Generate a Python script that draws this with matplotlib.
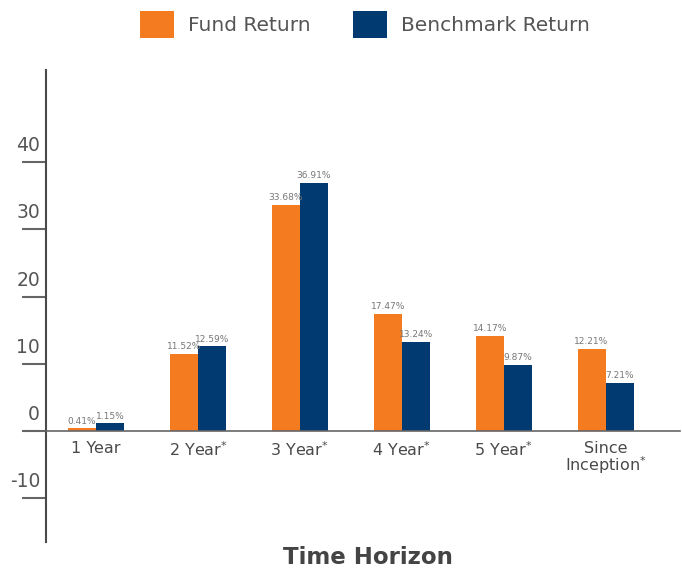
import matplotlib.pyplot as plt
import matplotlib.transforms as mtransforms
import numpy as np

plt.rcParams['axes.unicode_minus'] = False

# horizontes y rendimientos
horizontes = ['1 Year', '2 Year$^{*}$', '3 Year$^{*}$', '4 Year$^{*}$', '5 Year$^{*}$', 'Since\nInception$^{*}$']
fondo = [0.41, 11.52, 33.68, 17.47, 14.17, 12.21]
benchmark = [1.15, 12.59, 36.91, 13.24, 9.87, 7.21]
ticks_y = [-10, 0, 10, 20, 30, 40]

naranja = '#F47B20'
azul = '#003A70'
gris = '#4a4a4a'

fig = plt.figure(figsize=(6.82, 5.70), dpi=100)
ax = fig.add_axes([46/682, 1 - 542/570, (680 - 46)/682, (542 - 70)/570])

x = np.arange(len(horizontes))
ancho = 0.275
b1 = ax.bar(x - ancho/2, fondo, ancho, color=naranja, label='Fund Return')
b2 = ax.bar(x + ancho/2, benchmark, ancho, color=azul, label='Benchmark Return')

for barras, vals in ((b1, fondo), (b2, benchmark)):
    for b, v in zip(barras, vals):
        ax.annotate(f'{v:.2f}%', (b.get_x() + b.get_width()/2, v),
                    xytext=(0, 2), textcoords='offset points',
                    ha='center', va='bottom', fontsize=6.5, color='#777777')

ax.set_xlim(-0.49, 5.73)
ax.set_ylim(-16.5, 53.7)

for s in ['top', 'right']:
    ax.spines[s].set_visible(False)
ax.spines['bottom'].set_position(('data', 0))
ax.spines['bottom'].set_color('#666666')
ax.spines['bottom'].set_linewidth(1.2)
ax.spines['left'].set_color(gris)
ax.spines['left'].set_linewidth(1.5)

ax.set_xticks(x)
ax.set_xticklabels(horizontes, fontsize=11.5, color=gris, linespacing=0.9)
ax.tick_params(axis='x', length=0, pad=7)

ax.set_yticks(ticks_y)
ax.tick_params(axis='y', length=17.3, width=1.5, color='#666666', pad=-13,
               labelsize=13.5, labelcolor='#555555')
desplazar = mtransforms.ScaledTranslation(0, 5/72, fig.dpi_scale_trans)
for lab in ax.get_yticklabels():
    lab.set_verticalalignment('bottom')
    lab.set_transform(lab.get_transform() + desplazar)

fig.legend(loc='upper center', bbox_to_anchor=(0.535, 1.012), ncol=2, frameon=False,
           fontsize=14.5, labelcolor='#555555', handlelength=1.7, handleheight=1.7,
           columnspacing=2.1, handletextpad=0.7)

fig.text(0.54, 1 - 557/570, 'Time Horizon', ha='center', va='center',
         fontsize=16.5, fontweight='bold', color='#444444')

fig.savefig('out.png', dpi=100)
